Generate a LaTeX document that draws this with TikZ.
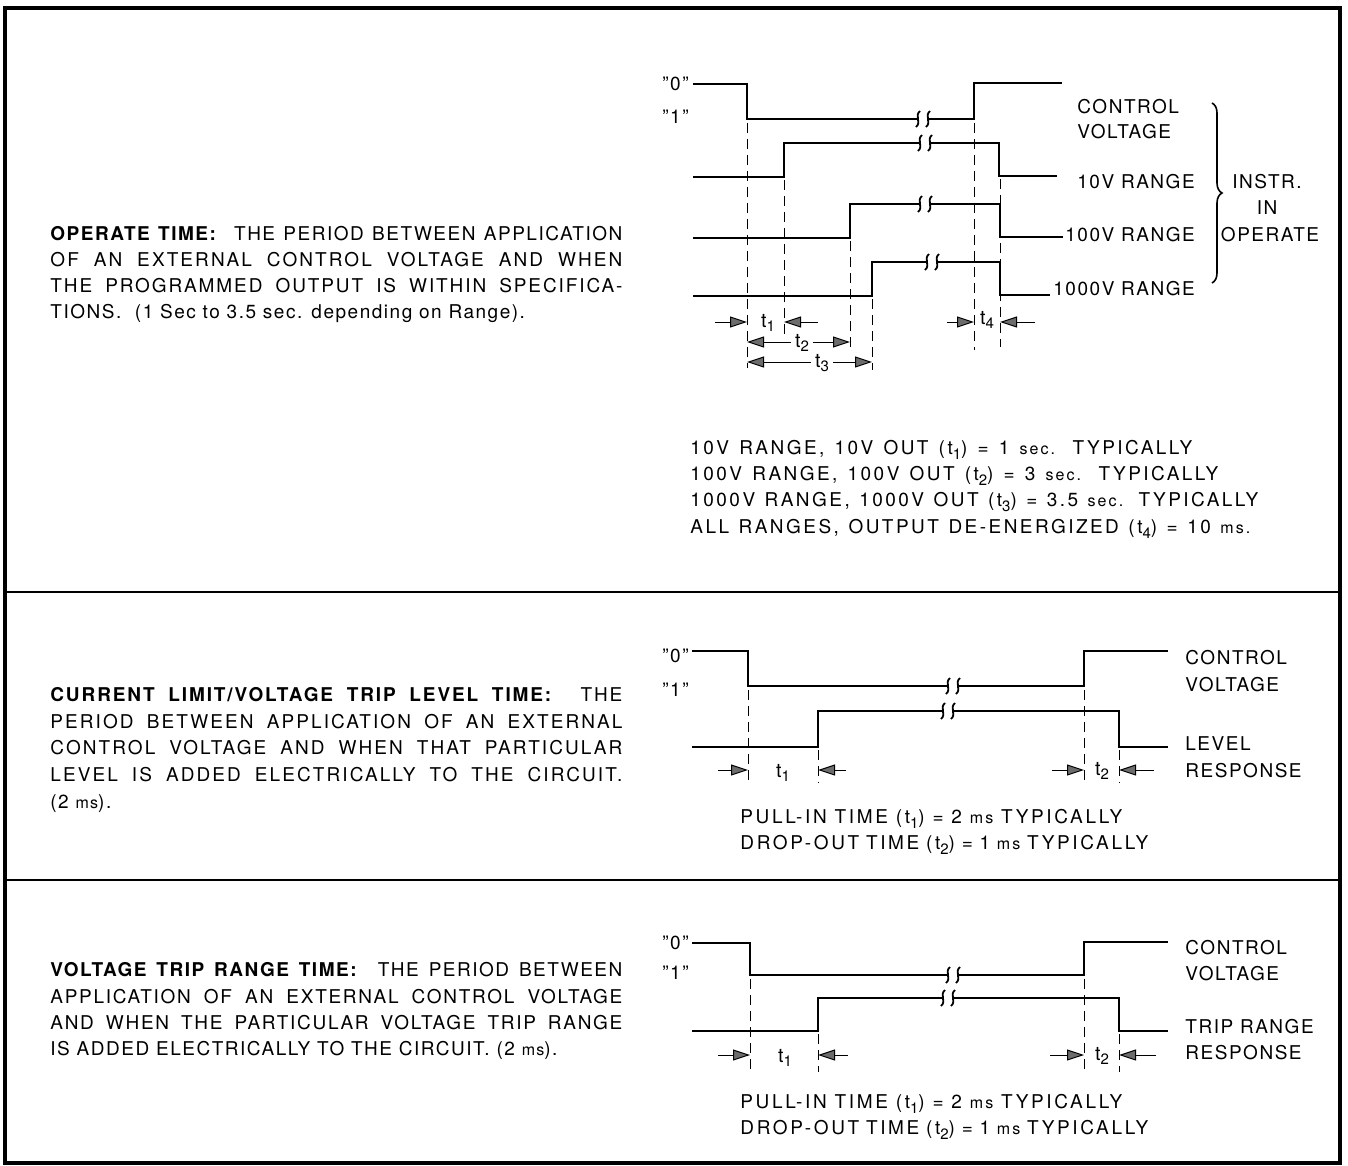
\documentclass[tikz,border=0pt]{standalone}
\usepackage{fontspec}
\setmainfont{TeX Gyre Heros}
\newfontfamily\spaced{TeX Gyre Heros}[LetterSpace=8]
\usetikzlibrary{arrows.meta,decorations.pathreplacing}

\newcommand\sm{\fontsize{8}{9}\selectfont}
\newcommand\tidx[1]{t\raisebox{-2.2pt}{\fontsize{7.5}{8}\selectfont #1}}
\newcommand\fitline[2]{\makebox[#1][s]{#2}}
\newcommand\track[1]{\addfontfeatures{LetterSpace=#1}}
%% break in a wire: gap plus two little S strokes
\newcommand\wirebreak[2]{%
	\fill[white] (#1-5,#2-4) rectangle (#1+5,#2+4);
	\draw[breakmark] (#1-3,#2-8) .. controls (#1-9,#2-3) and (#1-1,#2+3) .. (#1-7,#2+8);
	\draw[breakmark] (#1+7,#2-8) .. controls (#1+1,#2-3) and (#1+9,#2+3) .. (#1+3,#2+8);
}

\begin{document}
\begin{tikzpicture}[x=0.5pt, y=-0.5pt,
	wire/.style={line width=1.4pt},
	guide/.style={line width=0.5pt, dash pattern=on 5pt off 3pt},
	dim/.style={line width=0.5pt, -{Triangle[length=8.5pt,width=5.5pt,fill=gray!85!black]}},
	breakmark/.style={line width=0.9pt},
	lbl/.style={anchor=west, inner sep=0pt, text height=6.8pt, text depth=0pt, font=\spaced\fontsize{9.5}{12}\selectfont},
	tlab/.style={inner sep=2pt, text height=6pt, text depth=1pt, font=\spaced\fontsize{9.8}{12}\selectfont},
	frame/.style={line width=1.8pt}]
\useasboundingbox (0,0) rectangle (1348,1166);

%% Rahmen
\draw[frame] (5,8) rectangle (1340,1163);
\draw[line width=1.3pt] (5,592) -- (1340,592);
\draw[line width=1.3pt] (5,880) -- (1340,880);

%%%%%%%%%%%%%%%% Operate time
\begin{scope}
	%% Text
	\node[lbl] (op1) at (50,234) {\fitline{286pt}{\textbf{OPERATE TIME:}\ \ THE PERIOD BETWEEN APPLICATION}};
	\node[lbl] (op2) at (50,260) {\fitline{286pt}{\track{11}OF AN EXTERNAL CONTROL VOLTAGE AND WHEN}};
	\node[lbl] (op3) at (50,286) {\fitline{286pt}{\track{10}THE PROGRAMMED OUTPUT IS WITHIN SPECIFICA-}};
	\node[lbl] (op4) at (50,312) {TIONS.\ \ (1 Sec to 3.5 sec. depending on Range).};

	%% Pegel
	\node[lbl, anchor=east] (lev0) at (689,84) {”0”};
	\node[lbl, anchor=east] (lev1) at (689,117) {”1”};

	%% Signale
	\draw[wire] (693,84) -- (747,84) -- (747,119) -- (974,119) -- (974,83) -- (1062,83);
	\wirebreak{923}{119}
	\draw[wire] (693,177) -- (784,177) -- (784,143) -- (999,143) -- (999,176) -- (1057,176);
	\wirebreak{925}{143}
	\draw[wire] (693,238) -- (850,238) -- (850,204) -- (1000,204) -- (1000,237) -- (1063,237);
	\wirebreak{925}{204}
	\draw[wire] (693,296) -- (872,296) -- (872,262) -- (1000,262) -- (1000,295) -- (1050,295);
	\wirebreak{932}{262}

	%% Hilfslinien
	\coordinate (e1) at (747,123);
	\coordinate (e2) at (784,180);
	\coordinate (e3) at (850,241);
	\coordinate (e4) at (872,299);
	\coordinate (e5) at (974,123);
	\coordinate (e6) at (1000,179);
	\draw[guide] (e1) -- +(0,245);
	\draw[guide] (e2) -- +(0,157);
	\draw[guide] (e3) -- +(0,106);
	\draw[guide] (e4) -- +(0,71);
	\draw[guide] (e5) -- +(0,227);
	\draw[guide] (e6) -- +(0,168);

	%% Zeiten
	\node[tlab] (t1) at (768,322) {\tidx{1}};
	\coordinate (t1l) at (715,322);
	\coordinate (t1r) at (818,322);
	\draw[dim] (t1l) -- (t1l -| e1);
	\draw[dim] (t1r) -- (t1r -| e2);
	\node[tlab] (t2) at (802,342) {\tidx{2}};
	\draw[dim] (t2.west) -- (t2 -| e1);
	\draw[dim] (t2.east) -- (t2 -| e3);
	\node[tlab] (t3) at (822,362) {\tidx{3}};
	\draw[dim] (t3.west) -- (t3 -| e1);
	\draw[dim] (t3.east) -- (t3 -| e4);
	\node[tlab] (t4) at (987,319) {\tidx{4}};
	\coordinate (t4l) at (947,322);
	\coordinate (t4r) at (1035,322);
	\draw[dim] (t4l) -- (t4l -| e5);
	\draw[dim] (t4r) -- (t4r -| e6);

	%% Beschriftung
	\node[lbl] (cv1) at (1077,107) {CONTROL};
	\node[lbl] (cv2) at (1077,132) {VOLTAGE};
	\node[lbl] (r10) at (1077,182) {10V RANGE};
	\node[lbl] (r100) at (1065,235) {100V RANGE};
	\node[lbl] (r1000) at (1053,289) {1000V RANGE};
	\draw[decorate, decoration={brace, amplitude=5pt}, line width=0.8pt] (1212,103) -- (1212,283);
	\node[lbl, anchor=center] (ins1) at (1267,182) {INSTR.};
	\node[lbl, anchor=center] (ins2) at (1267,208) {IN};
	\node[lbl, anchor=center] (ins3) at (1270,235) {OPERATE};

	\node[lbl] (d1) at (690,448) {\fitline{251pt}{\track{13}10V RANGE, 10V OUT (\tidx{1}) = 1 {\sm sec.} TYPICALLY}};
	\node[lbl] (d2) at (690,474) {\fitline{264pt}{\track{13}100V RANGE, 100V OUT (\tidx{2}) = 3 {\sm sec.} TYPICALLY}};
	\node[lbl] (d3) at (690,500) {\fitline{284pt}{\track{13}1000V RANGE, 1000V OUT (\tidx{3}) = 3.5 {\sm sec.} TYPICALLY}};
	\node[lbl] (d4) at (690,527) {\fitline{280pt}{\track{13}ALL RANGES, OUTPUT DE-ENERGIZED (\tidx{4}) = 10 {\sm ms.}}};
\end{scope}

%%%%%%%%%%%%%%%% Current limit / voltage trip level
\begin{scope}
	\node[lbl] (cl1) at (50,695) {\fitline{286pt}{\track{10}\textbf{CURRENT LIMIT/VOLTAGE TRIP LEVEL TIME:}\ \ THE}};
	\node[lbl] (cl2) at (50,722) {\fitline{286pt}{\track{11}PERIOD BETWEEN APPLICATION OF AN EXTERNAL}};
	\node[lbl] (cl3) at (50,748) {\fitline{286pt}{\track{11}CONTROL VOLTAGE AND WHEN THAT PARTICULAR}};
	\node[lbl] (cl4) at (50,775) {\fitline{286pt}{\track{11}LEVEL IS ADDED ELECTRICALLY TO THE CIRCUIT.}};
	\node[lbl] (cl5) at (50,802) {(2 {\sm ms}).};

	\node[lbl, anchor=east] (clev0) at (689,656) {”0”};
	\node[lbl, anchor=east] (clev1) at (689,690) {”1”};

	\draw[wire] (692,651) -- (748,651) -- (748,686) -- (1084,686) -- (1084,651) -- (1168,651);
	\wirebreak{953}{686}
	\draw[wire] (692,747) -- (818,747) -- (818,711) -- (1119,711) -- (1119,747) -- (1168,747);
	\wirebreak{948}{711}

	\coordinate (c1) at (748,690);
	\coordinate (c2) at (818,750);
	\coordinate (c3) at (1084,690);
	\coordinate (c4) at (1119,750);
	\draw[guide] (c1) -- +(0,93);
	\draw[guide] (c2) -- +(0,33);
	\draw[guide] (c3) -- +(0,93);
	\draw[guide] (c4) -- +(0,33);

	\node[tlab] (ct1) at (783,772) {\tidx{1}};
	\coordinate (ct1l) at (718,770);
	\coordinate (ct1r) at (846,770);
	\draw[dim] (ct1l) -- (ct1l -| c1);
	\draw[dim] (ct1r) -- (ct1r -| c2);
	\node[tlab] (ct2) at (1102,770) {\tidx{2}};
	\coordinate (ct2l) at (1052,770);
	\coordinate (ct2r) at (1154,770);
	\draw[dim] (ct2l) -- (ct2l -| c3);
	\draw[dim] (ct2r) -- (ct2r -| c4);

	\node[lbl] (ccv1) at (1185,658) {CONTROL};
	\node[lbl] (ccv2) at (1185,685) {VOLTAGE};
	\node[lbl] (clr1) at (1185,744) {LEVEL};
	\node[lbl] (clr2) at (1185,771) {RESPONSE};

	\node[lbl] (cp1) at (740,817) {\fitline{191pt}{\track{14}PULL-IN TIME (\tidx{1}) = 2 {\sm ms} TYPICALLY}};
	\node[lbl] (cp2) at (740,843) {\fitline{204pt}{\track{14}DROP-OUT TIME (\tidx{2}) = 1 {\sm ms} TYPICALLY}};
\end{scope}

%%%%%%%%%%%%%%%% Voltage trip range
\begin{scope}
	\node[lbl] (vt1) at (50,970) {\fitline{286pt}{\textbf{VOLTAGE TRIP RANGE TIME:}\ \ THE PERIOD BETWEEN}};
	\node[lbl] (vt2) at (50,997) {\fitline{286pt}{\track{9}APPLICATION OF AN EXTERNAL CONTROL VOLTAGE}};
	\node[lbl] (vt3) at (50,1023) {\fitline{286pt}{\track{9}AND WHEN THE PARTICULAR VOLTAGE TRIP RANGE}};
	\node[lbl] (vt4) at (50,1049) {IS ADDED ELECTRICALLY TO THE CIRCUIT. (2 {\sm ms}).};

	\node[lbl, anchor=east] (vlev0) at (689,943) {”0”};
	\node[lbl, anchor=east] (vlev1) at (689,973) {”1”};

	\draw[wire] (692,943) -- (750,943) -- (750,975) -- (1084,975) -- (1084,942) -- (1168,942);
	\wirebreak{953}{975}
	\draw[wire] (692,1031) -- (818,1031) -- (818,998) -- (1119,998) -- (1119,1031) -- (1168,1031);
	\wirebreak{948}{998}

	\coordinate (v1) at (750,979);
	\coordinate (v2) at (818,1034);
	\coordinate (v3) at (1084,979);
	\coordinate (v4) at (1119,1034);
	\draw[guide] (v1) -- +(0,93);
	\draw[guide] (v2) -- +(0,38);
	\draw[guide] (v3) -- +(0,93);
	\draw[guide] (v4) -- +(0,38);

	\node[tlab] (vt1n) at (785,1057) {\tidx{1}};
	\coordinate (vt1l) at (718,1055);
	\coordinate (vt1r) at (848,1055);
	\draw[dim] (vt1l) -- (vt1l -| v1);
	\draw[dim] (vt1r) -- (vt1r -| v2);
	\node[tlab] (vt2n) at (1102,1055) {\tidx{2}};
	\coordinate (vt2l) at (1050,1055);
	\coordinate (vt2r) at (1156,1055);
	\draw[dim] (vt2l) -- (vt2l -| v3);
	\draw[dim] (vt2r) -- (vt2r -| v4);

	\node[lbl] (vcv1) at (1185,948) {CONTROL};
	\node[lbl] (vcv2) at (1185,974) {VOLTAGE};
	\node[lbl] (vtr1) at (1185,1027) {TRIP RANGE};
	\node[lbl] (vtr2) at (1185,1053) {RESPONSE};

	\node[lbl] (vp1) at (740,1102) {\fitline{191pt}{\track{14}PULL-IN TIME (\tidx{1}) = 2 {\sm ms} TYPICALLY}};
	\node[lbl] (vp2) at (740,1128) {\fitline{204pt}{\track{14}DROP-OUT TIME (\tidx{2}) = 1 {\sm ms} TYPICALLY}};
\end{scope}

\end{tikzpicture}
\end{document}
